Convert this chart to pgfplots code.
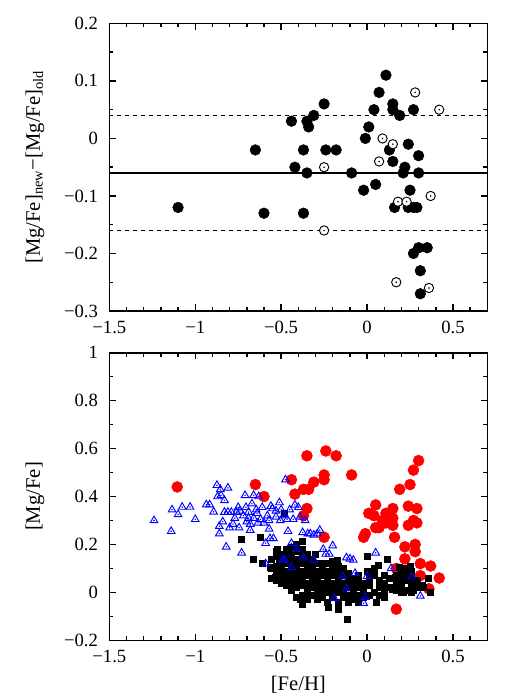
\documentclass[border=0pt]{standalone}
\usepackage{fontspec}
\setmainfont{Liberation Serif}
\usepackage{pgfplots}
\usepackage{pgfplotstable}
\pgfplotsset{compat=1.18}
\tikzset{tk/.style={draw=black, line width=1.1pt}}

% top panel: filled and open circles
\pgfplotstableread{
x y
-1.10 -0.12
-0.65 -0.02
-0.60 -0.13
-0.44 0.03
-0.42 -0.05
-0.37 -0.02
-0.37 -0.13
-0.35 0.03
-0.34 0.02
-0.35 -0.06
-0.31 0.04
-0.25 0.06
-0.24 -0.02
-0.18 -0.02
-0.09 -0.06
-0.02 -0.09
-0.01 0.00
0.01 0.02
0.04 0.05
0.05 -0.08
0.07 0.08
0.11 0.11
0.13 -0.02
0.15 0.06
0.15 0.05
0.15 -0.04
0.16 -0.12
0.19 0.04
0.21 -0.06
0.22 -0.05
0.24 -0.01
0.25 -0.09
0.24 -0.12
0.27 0.05
0.27 -0.12
0.29 -0.12
0.30 -0.03
0.30 -0.06
0.27 -0.20
0.30 -0.19
0.35 -0.19
0.31 -0.23
0.31 -0.27
}\topfilled

\pgfplotstableread{
x y
-0.25 -0.05
-0.25 -0.16
0.09 0.00
0.07 -0.04
0.15 -0.01
0.18 -0.11
0.23 -0.11
0.28 0.08
0.42 0.05
0.37 -0.10
0.17 -0.25
0.36 -0.26
}\topopen

% bottom panel: red circles
\pgfplotstableread{
x y
-1.105 0.44
-0.65 0.45
-0.60 0.40
-0.44 0.47
-0.42 0.41
-0.37 0.43
-0.34 0.43
-0.31 0.46
-0.35 0.57
-0.35 0.35
-0.37 0.32
-0.25 0.49
-0.25 0.47
-0.24 0.59
-0.18 0.57
-0.09 0.49
-0.25 0.23
-0.02 0.23
-0.01 0.245
0.01 0.33
0.05 0.365
0.04 0.32
0.05 0.27
0.07 0.27
0.09 0.30
0.11 0.33
0.11 0.29
0.15 0.35
0.15 0.31
0.15 0.28
0.16 0.23
0.19 0.43
0.24 0.36
0.25 0.45
0.27 0.51
0.30 0.55
0.29 0.35
0.27 0.30
0.29 0.29
0.24 0.28
0.22 0.19
0.28 0.20
0.28 0.17
0.22 0.14
0.31 0.12
0.37 0.11
0.31 0.07
0.42 0.06
0.36 0.015
0.17 -0.07
0.21 0.06
0.17 0.10
}\redpts

% bottom panel: blue triangles
\pgfplotstableread{
x y
-1.24 0.30
-1.14 0.255
-1.135 0.345
-1.10 0.325
-1.076 0.356
-1.03 0.356
-1.00 0.305
-0.936 0.366
-0.916 0.366
-0.893 0.336
-0.874 0.447
-0.854 0.43
-0.81 0.436
-0.87 0.40
-0.85 0.405
-0.83 0.384
-0.86 0.276
-0.86 0.245
-0.82 0.19
-0.84 0.295
-0.83 0.335
-0.81 0.335
-0.80 0.27
-0.79 0.335
-0.78 0.285
-0.76 0.335
-0.745 0.27
-0.73 0.165
-0.72 0.32
-0.71 0.405
-0.705 0.355
-0.70 0.295
-0.69 0.335
-0.68 0.26
-0.67 0.37
-0.66 0.31
-0.66 0.405
-0.645 0.345
-0.635 0.29
-0.63 0.40
-0.62 0.305
-0.61 0.355
-0.60 0.29
-0.59 0.205
-0.59 0.12
-0.58 0.32
-0.57 0.265
-0.565 0.225
-0.55 0.35
-0.545 0.225
-0.53 0.315
-0.51 0.375
-0.505 0.30
-0.50 0.345
-0.48 0.135
-0.475 0.47
-0.465 0.305
-0.46 0.255
-0.45 0.345
-0.44 0.205
-0.44 0.105
-0.43 0.305
-0.42 0.365
-0.41 0.18
-0.40 0.355
-0.39 0.315
-0.375 0.25
-0.37 0.145
-0.36 0.30
-0.345 0.245
-0.33 0.245
-0.31 0.24
-0.29 0.245
-0.275 0.26
-0.255 0.18
-0.24 0.16
-0.22 0.16
-0.20 0.195
-0.19 -0.025
-0.14 0.065
-0.12 0.145
-0.12 0.015
-0.10 0.14
-0.08 0.135
-0.07 0.08
-0.02 -0.045
-0.01 -0.02
0.00 0.067
0.05 0.165
0.14 0.10
0.26 0.065
0.31 -0.015
-0.31 0.135
-0.49 0.135
-0.74 0.34
-0.77 0.31
-0.69 0.31
-0.64 0.33
-0.57 0.30
-0.53 0.34
-0.48 0.32
-0.56 0.36
-0.75 0.355
-0.68 0.285
}\bluepts

% bottom panel: black squares
\pgfplotstableread{
x y
-0.73 0.22
-0.62 0.23
-0.48 0.33
-0.66 0.14
-0.61 0.12
-0.565 0.105
-0.535 0.065
-0.52 0.18
-0.51 0.12
-0.49 0.065
-0.45 0.175
-0.43 0.057
-0.39 -0.03
-0.375 -0.05
-0.35 -0.02
-0.38 0.215
-0.30 0.16
-0.29 -0.026
-0.225 -0.06
-0.165 -0.07
-0.117 -0.11
-0.175 0.134
0.00 0.15
0.00 0.09
0.055 -0.04
0.10 -0.02
0.12 0.14
0.064 0.113
0.19 0.106
0.25 0.11
0.37 0.00
0.355 0.06
0.33 0.022
0.27 0.008
0.21 0.00
0.166 0.064
0.146 0.015
-0.56 0.06
-0.56 0.10
-0.56 0.14
-0.53 0.05
-0.53 0.08
-0.53 0.11
-0.53 0.15
-0.53 0.17
-0.50 0.04
-0.50 0.07
-0.50 0.10
-0.50 0.13
-0.50 0.16
-0.47 0.03
-0.47 0.06
-0.47 0.09
-0.47 0.12
-0.47 0.15
-0.47 0.18
-0.44 0.01
-0.44 0.04
-0.44 0.07
-0.44 0.10
-0.44 0.13
-0.44 0.16
-0.44 0.19
-0.41 -0.02
-0.41 0.02
-0.41 0.05
-0.41 0.08
-0.41 0.11
-0.41 0.14
-0.41 0.17
-0.41 0.20
-0.38 -0.01
-0.38 0.03
-0.38 0.06
-0.38 0.09
-0.38 0.12
-0.38 0.15
-0.38 0.18
-0.35 -0.03
-0.35 0.01
-0.35 0.04
-0.35 0.07
-0.35 0.10
-0.35 0.13
-0.35 0.16
-0.32 -0.01
-0.32 0.02
-0.32 0.05
-0.32 0.08
-0.32 0.11
-0.32 0.14
-0.29 -0.03
-0.29 0.00
-0.29 0.03
-0.29 0.06
-0.29 0.09
-0.29 0.12
-0.26 -0.02
-0.26 0.01
-0.26 0.04
-0.26 0.07
-0.26 0.10
-0.26 0.12
-0.23 -0.04
-0.23 0.00
-0.23 0.03
-0.23 0.06
-0.23 0.09
-0.23 0.12
-0.20 -0.02
-0.20 0.01
-0.20 0.04
-0.20 0.07
-0.20 0.10
-0.20 0.13
-0.17 -0.04
-0.17 0.00
-0.17 0.03
-0.17 0.06
-0.17 0.09
-0.17 0.11
-0.14 -0.02
-0.14 0.01
-0.14 0.04
-0.14 0.07
-0.14 0.10
-0.11 -0.04
-0.11 -0.01
-0.11 0.02
-0.11 0.05
-0.11 0.08
-0.08 -0.03
-0.08 0.00
-0.08 0.03
-0.08 0.06
-0.05 -0.04
-0.05 -0.01
-0.05 0.02
-0.05 0.05
-0.05 0.07
-0.02 -0.02
-0.02 0.01
-0.02 0.04
0.01 -0.01
0.01 0.03
0.01 0.06
0.04 0.00
0.04 0.07
0.04 0.10
0.07 -0.01
0.07 0.02
0.07 0.05
0.10 0.01
0.10 0.04
0.10 0.07
0.13 0.02
0.13 0.06
0.17 0.01
0.17 0.04
0.17 0.07
0.20 0.00
0.20 0.03
0.20 0.06
0.20 0.09
0.23 0.01
0.23 0.05
0.23 0.08
0.23 0.10
0.26 0.00
0.26 0.03
0.26 0.06
0.26 0.09
0.29 0.02
0.29 0.05
0.32 0.03
}\blacksq

\pgfplotsset{
  panel/.style={
    scale only axis,
    width=283.5pt, height=215.7pt,
    xmin=-1.5, xmax=0.7,
    xtick={-1.5,-1,-0.5,0,0.5},
    xticklabels={\textrm{−1.5},\textrm{−1},\textrm{−0.5},\textrm{0},\textrm{0.5}},
    minor x tick num=4,
    tickwidth=5pt, subtickwidth=3pt,
    xtick pos=both, ytick pos=both,
    tick style={draw=black, line width=1.1pt},
    axis line style={line width=1.2pt},
    tick label style={font=\fontsize{14}{16}\selectfont},
    xticklabel style={yshift=-4pt},
    yticklabel style={xshift=-5pt},
    xlabel style={font=\fontsize{15.5}{18}\selectfont, yshift=-3pt},
    ylabel style={font=\fontsize{15.5}{18}\selectfont, yshift=8pt},
  },
}

\begin{document}
\begin{tikzpicture}
\begin{axis}[panel,
  at={(0,0)}, anchor=south west,
  ymin=-0.3, ymax=0.2,
  ytick={-0.3,-0.2,-0.1,0,0.1,0.2},
  yticklabels={\textrm{−0.3},\textrm{−0.2},\textrm{−0.1},\textrm{0},\textrm{0.1},\textrm{0.2}},
  minor y tick num=1,
  ylabel={[Mg/Fe]\textsubscript{new}−[Mg/Fe]\textsubscript{old}},
]
\addplot[black, line width=1pt] coordinates {(-1.5,-0.06) (0.7,-0.06)};
\addplot[black, line width=0.9pt, dash pattern=on 3pt off 3pt] coordinates {(-1.5,0.04) (0.7,0.04)};
\addplot[black, line width=0.9pt, dash pattern=on 3pt off 3pt] coordinates {(-1.5,-0.16) (0.7,-0.16)};
\addplot[only marks, mark=*, mark size=4pt, mark options={fill=black, draw=black}] table {\topfilled};
\addplot[only marks, mark=*, mark size=3.5pt, mark options={fill=white, draw=black, line width=0.7pt}] table {\topopen};
\addplot[only marks, mark=*, mark size=0.35pt, mark options={fill=black, draw=black}] table {\topopen};
% tick marks on the frame
\pgfplotsinvokeforeach{-1,-0.5,0,0.5}{
  \draw[tk] (axis cs:#1,-0.3) -- ([yshift=5pt]axis cs:#1,-0.3);
  \draw[tk] (axis cs:#1,0.2) -- ([yshift=-5pt]axis cs:#1,0.2);
}
\pgfplotsinvokeforeach{-1.4,-1.3,-1.2,-1.1,-0.9,-0.8,-0.7,-0.6,-0.4,-0.3,-0.2,-0.1,0.1,0.2,0.3,0.4,0.6}{
  \draw[tk] (axis cs:#1,-0.3) -- ([yshift=3pt]axis cs:#1,-0.3);
  \draw[tk] (axis cs:#1,0.2) -- ([yshift=-3pt]axis cs:#1,0.2);
}
\pgfplotsinvokeforeach{-0.2,-0.1,0,0.1}{
  \draw[tk] (axis cs:-1.5,#1) -- ([xshift=5pt]axis cs:-1.5,#1);
  \draw[tk] (axis cs:0.7,#1) -- ([xshift=-5pt]axis cs:0.7,#1);
}
\pgfplotsinvokeforeach{-0.25,-0.15,-0.05,0.05,0.15}{
  \draw[tk] (axis cs:-1.5,#1) -- ([xshift=3pt]axis cs:-1.5,#1);
  \draw[tk] (axis cs:0.7,#1) -- ([xshift=-3pt]axis cs:0.7,#1);
}
\end{axis}

\begin{axis}[panel,
  at={(0,-31.3pt)}, anchor=north west,
  ymin=-0.2, ymax=1,
  ytick={-0.2,0,0.2,0.4,0.6,0.8,1},
  yticklabels={\textrm{−0.2},\textrm{0},\textrm{0.2},\textrm{0.4},\textrm{0.6},\textrm{0.8},\textrm{1}},
  minor y tick num=1,
  xlabel={[Fe/H]},
  ylabel={[Mg/Fe]},
]
\addplot[only marks, mark=*, mark size=4.1pt, mark options={fill=red, draw=red}] table {\redpts};
\addplot[only marks, mark=square*, mark size=2.25pt, mark options={fill=black, draw=black}] table {\blacksq};
\addplot[only marks, mark=triangle, mark size=3.3pt, mark options={draw=blue, line width=0.7pt}] table {\bluepts};
\addplot[only marks, mark=*, mark size=0.3pt, mark options={fill=blue, draw=blue}] table {\bluepts};
% tick marks on the frame
\pgfplotsinvokeforeach{-1,-0.5,0,0.5}{
  \draw[tk] (axis cs:#1,-0.2) -- ([yshift=5pt]axis cs:#1,-0.2);
  \draw[tk] (axis cs:#1,1) -- ([yshift=-5pt]axis cs:#1,1);
}
\pgfplotsinvokeforeach{-1.4,-1.3,-1.2,-1.1,-0.9,-0.8,-0.7,-0.6,-0.4,-0.3,-0.2,-0.1,0.1,0.2,0.3,0.4,0.6}{
  \draw[tk] (axis cs:#1,-0.2) -- ([yshift=3pt]axis cs:#1,-0.2);
  \draw[tk] (axis cs:#1,1) -- ([yshift=-3pt]axis cs:#1,1);
}
\pgfplotsinvokeforeach{0,0.2,0.4,0.6,0.8}{
  \draw[tk] (axis cs:-1.5,#1) -- ([xshift=5pt]axis cs:-1.5,#1);
  \draw[tk] (axis cs:0.7,#1) -- ([xshift=-5pt]axis cs:0.7,#1);
}
\pgfplotsinvokeforeach{-0.1,0.1,0.3,0.5,0.7,0.9}{
  \draw[tk] (axis cs:-1.5,#1) -- ([xshift=3pt]axis cs:-1.5,#1);
  \draw[tk] (axis cs:0.7,#1) -- ([xshift=-3pt]axis cs:0.7,#1);
}
\end{axis}
\pgfresetboundingbox
\path[use as bounding box] (-82pt,-291.75pt) rectangle (308pt,233.25pt);
\end{tikzpicture}
\end{document}
